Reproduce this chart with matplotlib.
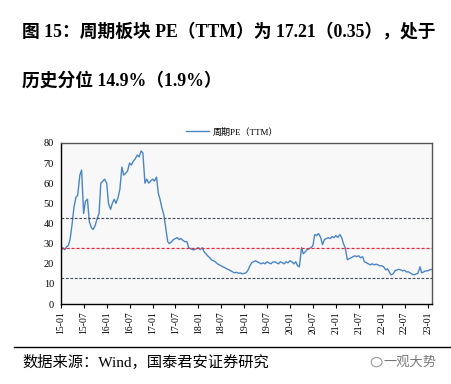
import matplotlib
matplotlib.use("Agg")
import matplotlib.pyplot as plt
import pandas as pd

plt.rcParams['font.family'] = ['Liberation Serif', 'Noto Sans CJK SC']

title_line1 = "图 15：周期板块 PE（TTM）为 17.21（0.35），处于"
title_line2 = "历史分位 14.9%（1.9%）"
source_text = "数据来源：Wind，国泰君安证券研究"
brand_text = "一观大势"
series_name = "周期PE（TTM）"

# semi-monthly observations (1st and 15th of each month), 2015-01 .. 2023-02
pe_2015 = [26, 28, 27, 28.5, 29, 32, 40, 48, 53, 54, 64, 66.5,
           45, 51, 52, 41, 38, 37, 39, 42, 45, 60, 61, 62]
pe_2016 = [60, 50, 47, 50, 52, 50, 53, 57, 68, 64, 65, 66,
           70, 69, 71, 72, 74, 73, 76, 75, 60, 62, 60, 61]
pe_2017 = [62, 61, 63, 55, 52, 48, 44, 38, 31, 30, 31, 32,
           32.5, 33, 32, 32.5, 31.5, 31, 31, 28, 27.5, 27, 27, 27.5]
pe_2018 = [28, 27, 28, 26, 25, 24, 23, 22, 21.5, 21, 20, 19.5,
           19, 18.5, 18, 17.5, 17, 16.5, 16, 15.5, 15.8, 15.3, 15.5, 15]
pe_2019 = [15.3, 15.5, 17, 19, 20.5, 21, 21.5, 21, 20.5, 20, 20.5, 20,
           21, 20.5, 20, 20.8, 21, 20.5, 20, 21, 20.5, 20, 21, 20.5]
pe_2020 = [21.5, 21, 20, 21, 19, 18.5, 28, 25, 26, 27, 27.5, 28,
           29, 34.5, 34, 35, 33, 29.5, 32, 32.5, 33, 32.5, 33.5, 33]
pe_2021 = [34, 33, 34.5, 33, 30, 28, 22, 22.5, 23, 23.5, 24, 23.5,
           24, 23, 23.5, 21, 20.5, 20, 19.5, 20, 19.5, 19.8, 19.5, 19]
pe_2022 = [19, 18.5, 17, 17.5, 16, 14.5, 15, 16.5, 17, 17.2, 17, 16.5,
           16.8, 16, 16, 15.5, 14.8, 14.5, 15, 15.2, 18.5, 15.5, 16, 16.5]
pe_2023 = [16.5, 17, 17.21]

pe_values = pe_2015 + pe_2016 + pe_2017 + pe_2018 + pe_2019 + pe_2020 + pe_2021 + pe_2022 + pe_2023
dates = pd.date_range("2015-01-01", periods=len(pe_values), freq="SMS")

upper_band = 42.5
mean_line = 27.8
lower_band = 13.2

tick_dates = pd.date_range("2015-01-01", "2023-01-01", freq="6MS")
tick_labels = [d.strftime("%y-%m") for d in tick_dates]

fig = plt.figure(figsize=(4.51, 3.84), dpi=100)
ax = fig.add_axes([0.135, 0.208, 0.823, 0.42])
ax.set_facecolor('#f8f8f8')

ax.plot(dates, pe_values, color='#4a86c5', lw=1.0, label=series_name)
ax.axhline(upper_band, color='#404a5a', lw=0.8, ls=(0, (2.5, 1.5)))
ax.axhline(mean_line, color='#e8283c', lw=0.9, ls=(0, (2.5, 1.5)))
ax.axhline(lower_band, color='#404a5a', lw=0.8, ls=(0, (2.5, 1.5)))

ax.set_ylim(0, 80)
ax.set_yticks(range(0, 81, 10))
ax.set_xlim(pd.Timestamp("2015-01-01"), pd.Timestamp("2023-02-05"))
ax.set_xticks(tick_dates)
ax.set_xticklabels(tick_labels, rotation=90, fontsize=7)
ax.tick_params(axis='y', labelsize=7.5, length=0, pad=5)
ax.tick_params(axis='x', length=3, width=0.8, pad=2, direction='out')
for s in ['top', 'right']:
    ax.spines[s].set_color('#555555')
    ax.spines[s].set_linewidth(1.0)
for s in ['left', 'bottom']:
    ax.spines[s].set_color('black')
    ax.spines[s].set_linewidth(1.0)

fig.legend(loc='center', bbox_to_anchor=(0.515, 0.656), frameon=False,
           fontsize=6.5, handlelength=2.5, handletextpad=0.4)

fig.text(0.049, 0.919, title_line1, fontsize=12.8, fontweight='bold', va='center', ha='left')
fig.text(0.049, 0.79, title_line2, fontsize=12.8, fontweight='bold', va='center', ha='left')

fig.add_artist(plt.Line2D([0.031, 1.0], [0.096, 0.096], color='black', lw=1.0, transform=fig.transFigure))
fig.text(0.049, 0.057, source_text, fontsize=11, va='center', ha='left')
fig.text(0.968, 0.057, brand_text, fontsize=9.5, va='center', ha='right', color='#777777')
fig.add_artist(matplotlib.patches.Circle((0.835, 0.057), 0.012, transform=fig.transFigure,
                                         fill=False, edgecolor='#999999', lw=0.8))

fig.savefig("out.png", dpi=100)
